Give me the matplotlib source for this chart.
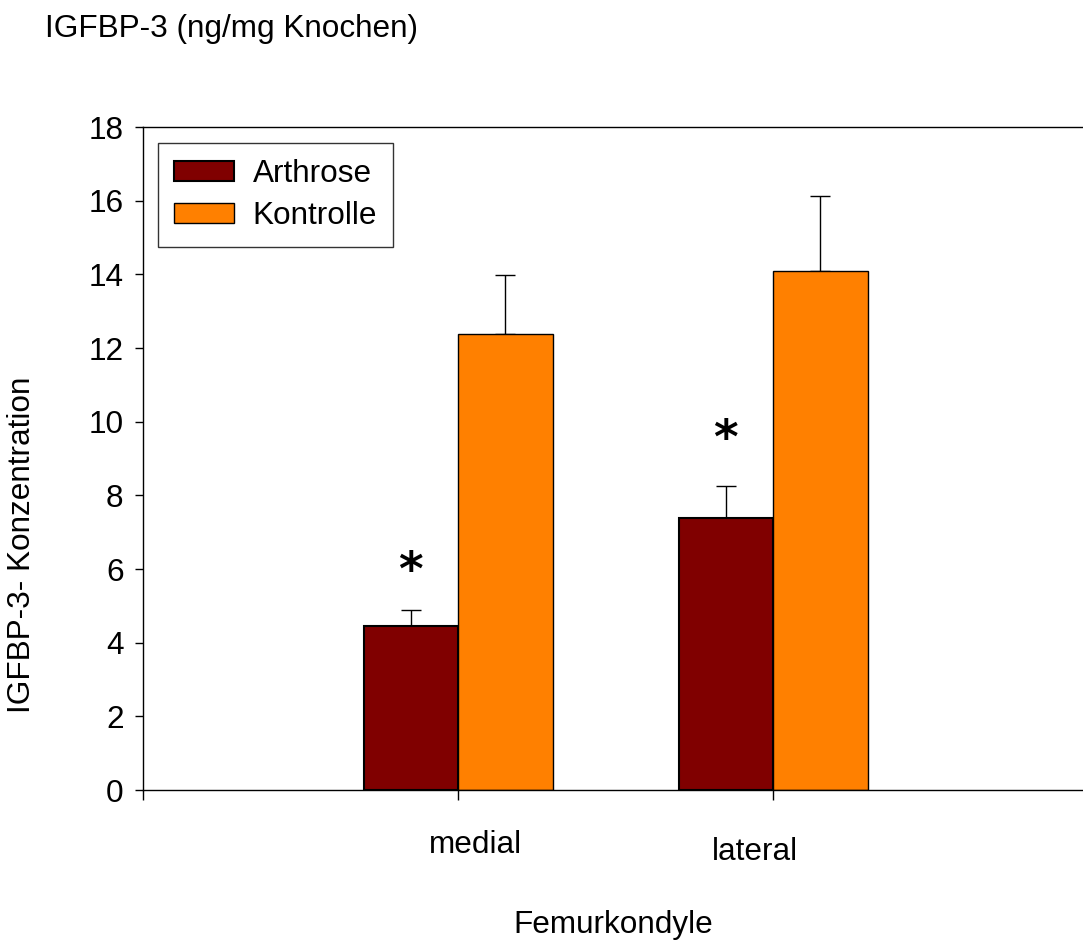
import matplotlib
matplotlib.use("Agg")
import matplotlib.pyplot as plt
import numpy as np

categories = ["medial", "lateral"]
series_names = ["Arthrose", "Kontrolle"]
arthrose = [4.45, 7.39]
arthrose_err = [0.43, 0.85]
kontrolle = [12.37, 14.09]
kontrolle_err = [1.62, 2.03]
yticks = [0, 2, 4, 6, 8, 10, 12, 14, 16, 18]
asterisk_y = [5.9, 9.5]

plt.rcParams['font.family'] = ['Liberation Sans', 'DejaVu Sans']
FS = 22.7

fig = plt.figure(figsize=(10.83, 9.42), dpi=100)
W, H = 1083, 942
left, right, top, bottom = 143, 1088, 127, 790
ax = fig.add_axes([left / W, 1 - bottom / H, (right - left) / W, (bottom - top) / H])

x = np.arange(len(categories))
bw = 0.3
ekw = dict(ecolor='black', elinewidth=1.0, capthick=1.0)
ax.bar(x - bw / 2, arthrose, width=bw, color='#800000', edgecolor='black',
       linewidth=1.5, label=series_names[0], zorder=2)
ax.bar(x + bw / 2, kontrolle, width=bw, color='#FF8000', edgecolor='black',
       linewidth=1.0, label=series_names[1], zorder=2)
ax.errorbar(x - bw / 2, arthrose, yerr=[np.zeros(len(x)), arthrose_err], fmt='none',
            capsize=7.2, zorder=1, **ekw)
ax.errorbar(x + bw / 2, kontrolle, yerr=[np.zeros(len(x)), kontrolle_err], fmt='none',
            capsize=7.2, zorder=1, **ekw)

# significance asterisks above Arthrose bars
for i in range(len(categories)):
    ax.text(x[i] - bw / 2, asterisk_y[i], "*",
            ha='center', va='center', fontsize=34, fontweight='bold',
            family='DejaVu Sans')

ax.set_xlim(-1, 2)
ax.set_ylim(0, 18)
ax.set_yticks(yticks)
ax.set_yticklabels([str(t) for t in yticks], fontsize=FS)
ax.set_xticks([-1, 0, 1, 2])
ax.set_xticklabels([])
ax.tick_params(axis='y', direction='out', length=6, width=1, pad=8)
ax.tick_params(axis='x', direction='out', length=7, width=1)
for s in ax.spines.values():
    s.set_linewidth(1.0)
    s.set_color('black')

# category labels (baseline positions in pixels)
cat_px = [476, 755]
cat_base = [853, 860]
for i, c in enumerate(categories):
    fig.text(cat_px[i] / W, 1 - cat_base[i] / H, c, ha='center', va='baseline', fontsize=FS)

fig.text(613 / W, 1 - 933 / H, "Femurkondyle", ha='center', va='baseline', fontsize=FS)
fig.text(45 / W, 1 - 37 / H, "IGFBP-3 (ng/mg Knochen)", ha='left', va='baseline', fontsize=FS)
fig.text(22 / W, 1 - 545 / H, "IGFBP-3- Konzentration", ha='center', va='center',
         rotation=90, fontsize=FS)

leg = ax.legend(loc='upper left', bbox_to_anchor=(15 / 945, 1 - 16 / 663),
                fontsize=FS, frameon=True, fancybox=False, edgecolor='black',
                handlelength=1.9, handleheight=0.6, handletextpad=0.6,
                borderpad=0.5, labelspacing=0.4, borderaxespad=0)
leg.get_frame().set_linewidth(1.0)

fig.savefig("out.png", dpi=100)
